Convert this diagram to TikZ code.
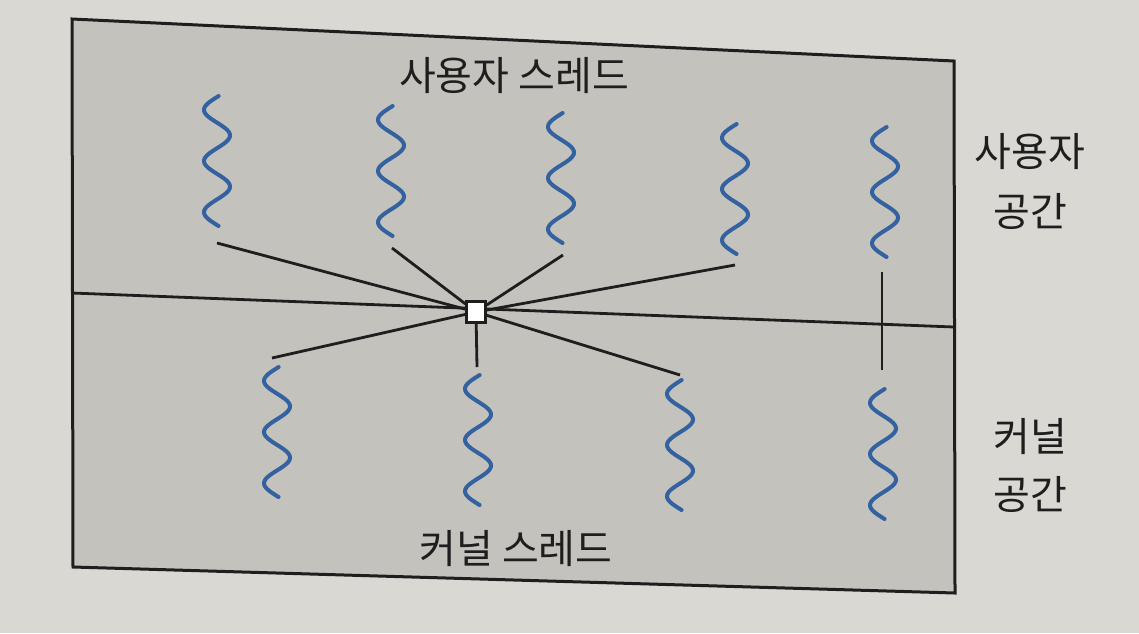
\documentclass[tikz,border=0pt]{standalone}
\usepackage{fontspec}
\newfontfamily\kr{Noto Sans CJK KR}
\definecolor{pagebg}{RGB}{218,216,211}
\definecolor{boxbg}{RGB}{196,194,189}
\definecolor{threadblue}{RGB}{52,98,160}
\definecolor{ink}{RGB}{30,30,30}
\newcommand\wavethread[2]{% center x, top y
  \draw[thread] plot[domain=-0.27:2.27,samples=90,smooth] ({#1-13*cos(360*\x)},{#2+51.2*(\x+0.27)});
}
\begin{document}
\begin{tikzpicture}[x=1pt,y=-1pt,
  thread/.style={draw=threadblue, line width=4pt, line cap=round},
  link/.style={draw=ink, line width=2.8pt},
  lbl/.style={font=\kr\fontsize{40}{48}\selectfont, text=ink, inner sep=0pt, anchor=center},
  hubbox/.style={draw=ink, fill=white, line width=2.4pt, minimum width=19pt, minimum height=21pt, inner sep=0pt}]
\fill[pagebg] (0,0) rectangle (1139,633);
\useasboundingbox (0,0) rectangle (1139,633);
% box
\coordinate (tl) at (72,19);
\coordinate (tr) at (954,61);
\coordinate (br) at (955,593);
\coordinate (bl) at (73,567);
\filldraw[fill=boxbg, draw=ink, line width=3pt, line join=miter] (tl) -- (tr) -- (br) -- (bl) -- cycle;
% divider
\coordinate (dl) at (72,293);
\coordinate (dr) at (954,327);
\draw[link] (dl) -- (dr);
% user threads
\wavethread{217}{96}
\wavethread{391}{106}
\wavethread{561}{113}
\wavethread{735}{124}
\wavethread{885}{127}
% kernel threads
\wavethread{277}{367}
\wavethread{478}{375}
\wavethread{680}{380}
\wavethread{883}{389}
% link end points
\coordinate (u1) at (217,243);
\coordinate (u2) at (392,248);
\coordinate (u3) at (563,255);
\coordinate (u4) at (735,265);
\coordinate (u5) at (882,272);
\coordinate (k1) at (272,358);
\coordinate (k2) at (477,367);
\coordinate (k3) at (680,375);
\coordinate (k4) at (882,370);
% hub
\node[hubbox] (hub) at (476,312) {};
\foreach \p in {u1,u2,u3,u4,k1,k2,k3} \draw[link] (\p) -- (hub);
\draw[link] (u5) -- (k4);
\node[hubbox] at (hub) {};
% labels
\node[lbl] (ut) at (514,76) {사용자 스레드};
\node[lbl] (kt) at (516,549) {커널 스레드};
\node[lbl] (us1) at (1030,152) {사용자};
\node[lbl] (us2) at (1030,211) {공간};
\node[lbl] (ks1) at (1030,437) {커널};
\node[lbl] (ks2) at (1030,494) {공간};
\end{tikzpicture}
\end{document}
